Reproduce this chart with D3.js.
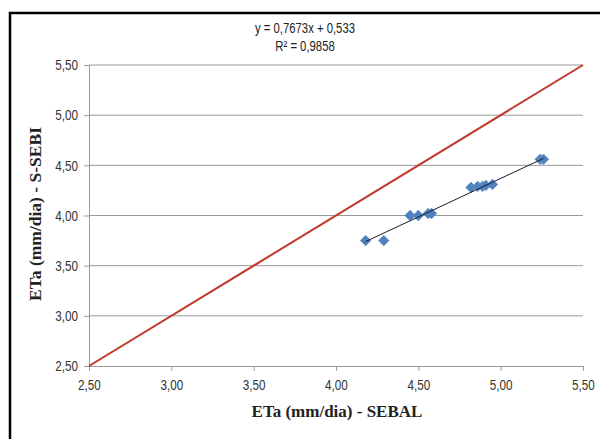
<!DOCTYPE html>
<html><head><meta charset="utf-8">
<script src="https://cdn.jsdelivr.net/npm/d3@7"></script>
<style>body{margin:0;background:#fff}</style>
</head><body>
<svg id="c" width="600" height="439"></svg>
<script>
const sebal = [4.18, 4.29, 4.45, 4.50, 4.56, 4.58, 4.82, 4.86, 4.89, 4.91, 4.95, 5.24, 5.26];
const ssebi = [3.75, 3.75, 4.00, 4.00, 4.02, 4.02, 4.28, 4.29, 4.29, 4.30, 4.31, 4.56, 4.56];
const fitSlope = [0.7673];
const fitIntercept = [0.533];
const fitLabels = ["y = 0,7673x + 0,533", "R² = 0,9858"];
const tickValues = [2.5, 3.0, 3.5, 4.0, 4.5, 5.0, 5.5];
const xTitle = "ETa (mm/dia) - SEBAL";
const yTitle = "ETa (mm/dia) - S-SEBI";

const svg = d3.select("#c");
const L = 89, R = 583, T = 65, B = 366;
const x = d3.scaleLinear().domain([2.5, 5.5]).range([L, R]);
const y = d3.scaleLinear().domain([2.5, 5.5]).range([B, T]);
const fmt = v => d3.format(".2f")(v).replace(".", ",");
const font = "'Liberation Sans', Arial, sans-serif";
const SX = 0.78;

// frame
svg.append("rect").attr("x", 10).attr("y", 13).attr("width", 600).attr("height", 440)
  .attr("fill", "none").attr("stroke", "#000").attr("stroke-width", 2.5);

// gridlines
svg.append("g").selectAll("line").data(tickValues.slice(1)).join("line")
  .attr("x1", L).attr("x2", R).attr("y1", d => y(d)).attr("y2", d => y(d))
  .attr("stroke", "#999").attr("stroke-width", 1);

// axes
const xAxis = svg.append("g").attr("transform", `translate(0,${B})`)
  .call(d3.axisBottom(x).tickValues(tickValues).tickFormat(fmt).tickSize(5).tickPadding(8));
const yAxis = svg.append("g").attr("transform", `translate(${L},0)`)
  .call(d3.axisLeft(y).tickValues(tickValues).tickFormat(fmt).tickSize(5).tickPadding(4));
[xAxis, yAxis].forEach(a => {
  a.select(".domain").attr("stroke", "#999");
  a.selectAll(".tick line").attr("stroke", "#999");
  a.selectAll("text").attr("font-family", font).attr("font-size", 15).attr("fill", "#333")
    .attr("transform", `scale(${SX},1)`);
});
yAxis.selectAll("text").attr("x", -14);

// identity line
svg.append("line").attr("x1", x(2.5)).attr("y1", y(2.5)).attr("x2", x(5.5)).attr("y2", y(5.5))
  .attr("stroke", "#c0392b").attr("stroke-width", 2);

// points
svg.append("g").selectAll("path").data(sebal.map((v, i) => [v, ssebi[i]])).join("path")
  .attr("d", d3.symbol(d3.symbolSquare, 58))
  .attr("transform", d => `translate(${x(d[0])},${y(d[1])}) rotate(45)`)
  .attr("fill", "#4f81bd").attr("stroke", "#6d95c8").attr("stroke-width", 0.5);

// trendline
const xmin = d3.min(sebal), xmax = d3.max(sebal);
svg.append("line")
  .attr("x1", x(xmin)).attr("y1", y(fitSlope[0] * xmin + fitIntercept[0]))
  .attr("x2", x(xmax)).attr("y2", y(fitSlope[0] * xmax + fitIntercept[0]))
  .attr("stroke", "#1a1a2e").attr("stroke-width", 1);

// equation
svg.append("g").selectAll("text").data(fitLabels).join("text")
  .attr("transform", (d, i) => `translate(305,${33 + i * 18}) scale(${SX},1)`)
  .attr("text-anchor", "middle")
  .attr("font-family", font).attr("font-size", 14.5).attr("fill", "#222").text(d => d);

// titles
svg.append("text").attr("x", 337).attr("y", 417).attr("text-anchor", "middle")
  .attr("font-family", "'Liberation Serif', serif").attr("font-weight", "bold").attr("font-size", 17)
  .attr("fill", "#222").text(xTitle);
svg.append("text").attr("transform", "translate(41,214) rotate(-90)").attr("text-anchor", "middle")
  .attr("font-family", "'Liberation Serif', serif").attr("font-weight", "bold").attr("font-size", 17.5)
  .attr("fill", "#222").text(yTitle);
</script>
</body></html>
